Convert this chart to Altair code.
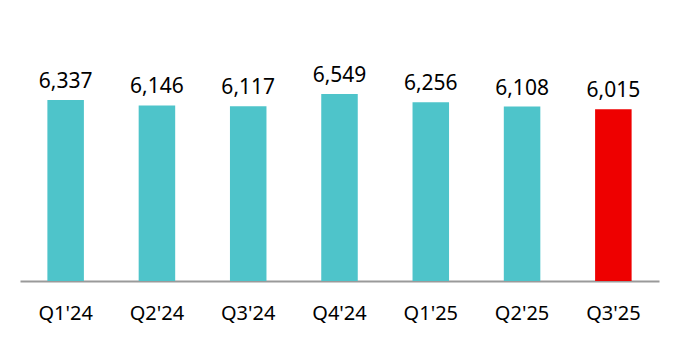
import altair as alt
import pandas as pd

quarters = ["Q1'24", "Q2'24", "Q3'24", "Q4'24", "Q1'25", "Q2'25", "Q3'25"]
values = [6337, 6146, 6117, 6549, 6256, 6108, 6015]
highlight = [False, False, False, False, False, False, True]

df = pd.DataFrame({"quarter": quarters, "value": values, "hl": highlight})

x = alt.X("quarter:N", sort=quarters,
          scale=alt.Scale(paddingInner=0.6, paddingOuter=0.3),
          axis=alt.Axis(title=None, labelFont="Noto Sans", labelFontSize=20,
                        labelColor="#000000", labelAngle=0, labelPadding=22,
                        ticks=False, domainColor="#9a9a9a", domainWidth=2, grid=False))
y = alt.Y("value:Q", scale=alt.Scale(domain=[0, 9140]), axis=None)

bars = alt.Chart(df).mark_bar().encode(
    x=x, y=y,
    color=alt.Color("hl:N", scale=alt.Scale(domain=[False, True], range=["#4EC4CA", "#EE0000"]), legend=None),
)
labels = alt.Chart(df).mark_text(font="Noto Sans", fontSize=21, baseline="bottom", dy=-8, color="#000000").encode(
    x=alt.X("quarter:N", sort=quarters), y=y,
    text=alt.Text("value:Q", format=",")
)

chart = (bars + labels).properties(
    width=639, height=261,
    padding={"left": 20, "top": 20, "right": 21, "bottom": 59},
    autosize=alt.AutoSizeParams(type="none"),
    background="#ffffff",
).configure_view(stroke=None)

chart.save("out.html", embed_options={"renderer": "svg", "actions": False})
